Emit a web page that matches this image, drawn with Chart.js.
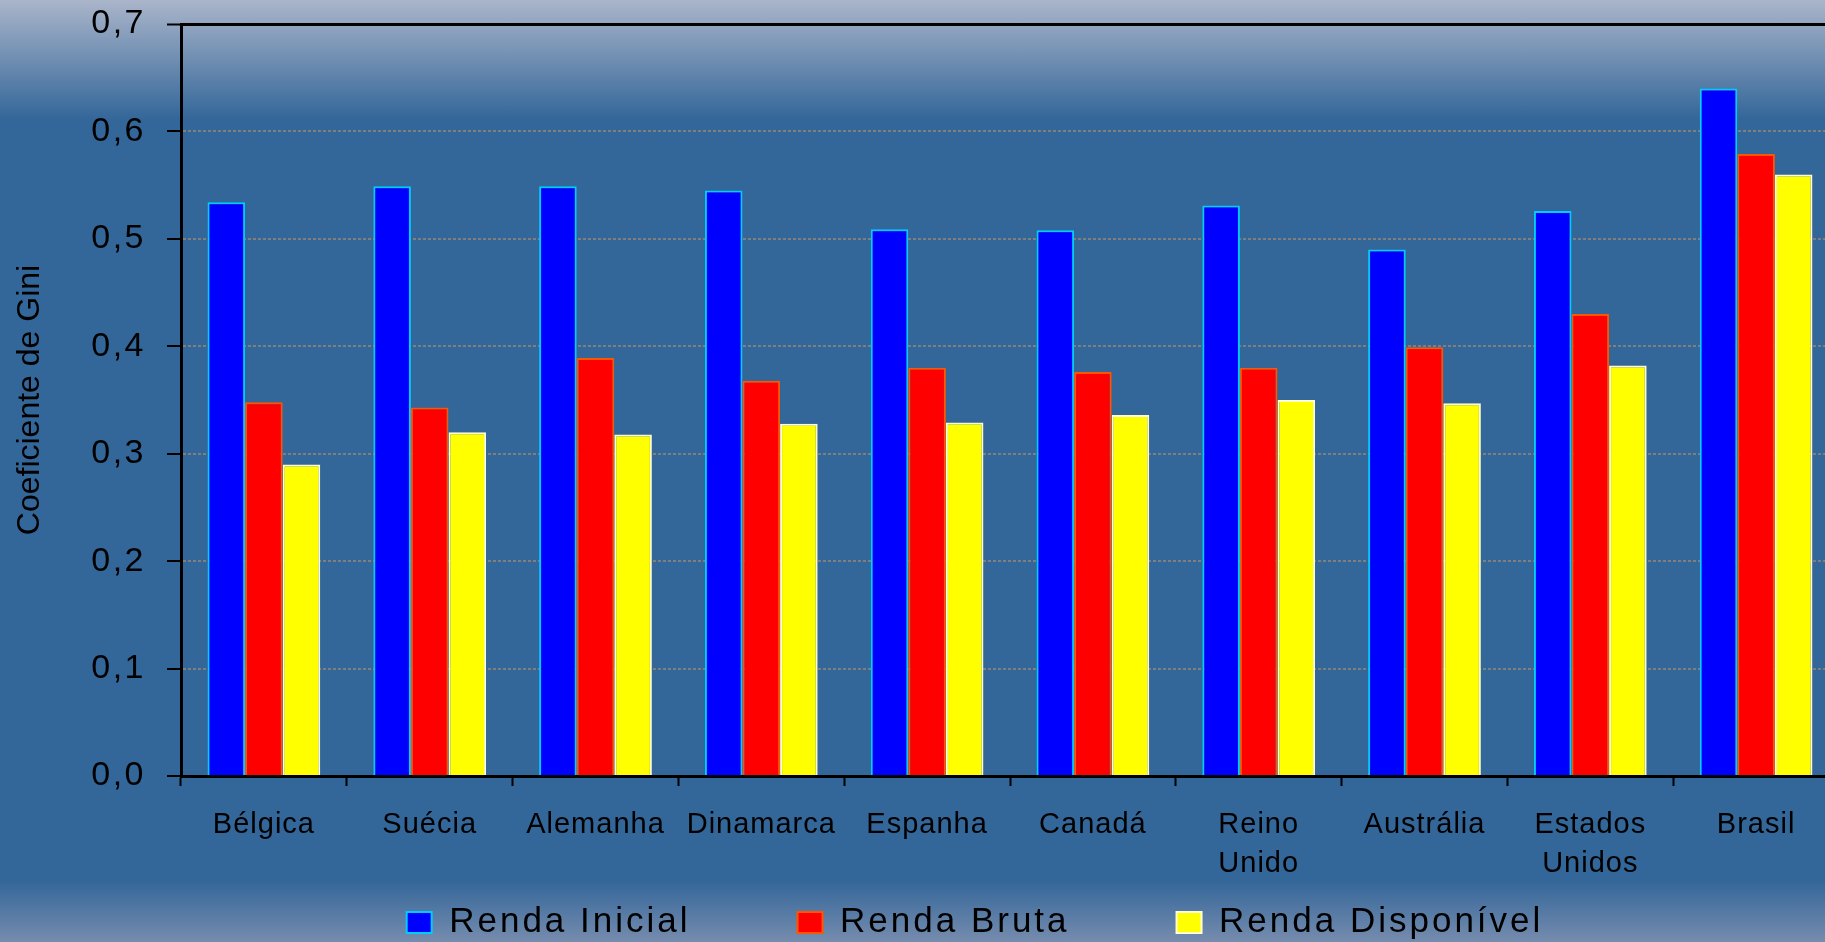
<!DOCTYPE html>
<html lang="pt">
<head>
<meta charset="utf-8">
<title>Coeficiente de Gini</title>
<script src="https://cdn.jsdelivr.net/npm/chart.js@4/dist/chart.umd.min.js"></script>
<style>
    html, body {
        margin: 0;
        padding: 0;
        width: 1825px;
        height: 942px;
        overflow: hidden;
        background: linear-gradient(to bottom, #aab5ca 0px, #336699 120px, #336699 880px, #768cae 942px);
    }
    #wrap {
        position: absolute;
        left: 0;
        top: 0;
        width: 1845px;
        height: 950px;
    }
</style>
</head>
<body>
<div id="wrap"><canvas id="grafico" width="1845" height="950"></canvas></div>
<script>
// Dados
const paises = ['Bélgica', 'Suécia', 'Alemanha', 'Dinamarca', 'Espanha', 'Canadá',
    ['Reino', 'Unido'], 'Austrália', ['Estados', 'Unidos'], 'Brasil'];
const rendaInicial    = [0.534, 0.549, 0.549, 0.545, 0.509, 0.508, 0.531, 0.490, 0.526, 0.640];
const rendaBruta      = [0.348, 0.343, 0.389, 0.368, 0.380, 0.376, 0.380, 0.399, 0.430, 0.579];
const rendaDisponivel = [0.290, 0.320, 0.318, 0.328, 0.329, 0.336, 0.350, 0.347, 0.382, 0.560];
const nomesSeries = ['Renda Inicial', 'Renda Bruta', 'Renda Disponível'];
const yMin = 0;
const yMax = 0.7;
const yPasso = 0.1;

const FONTE = "'Liberation Sans', Arial, sans-serif";

// Escalas com espaçamento entre letras (como no slide original),
// sem recorte dos rótulos na caixa do eixo
class EixoCategorias extends Chart.CategoryScale {
    _computeLabelArea() { return undefined; }
    drawLabels(area) {
        this.ctx.save();
        this.ctx.letterSpacing = '1px';
        super.drawLabels(area);
        this.ctx.restore();
    }
}
EixoCategorias.id = 'eixoCategorias';
EixoCategorias.defaults = Chart.CategoryScale.defaults;

class EixoValores extends Chart.LinearScale {
    _computeLabelArea() { return undefined; }
    drawLabels(area) {
        this.ctx.save();
        this.ctx.letterSpacing = '2.5px';
        super.drawLabels(area);
        this.ctx.restore();
    }
    drawTitle() {
        this.ctx.save();
        this.ctx.letterSpacing = '0px';
        super.drawTitle();
        this.ctx.restore();
    }
}
EixoValores.id = 'eixoValores';
EixoValores.defaults = Chart.LinearScale.defaults;

Chart.register(EixoCategorias, EixoValores);

const espacoLegenda = {
    id: 'espacoLegenda',
    beforeLayout(chart) { chart.ctx.letterSpacing = '3px'; },
    afterLayout(chart) { chart.ctx.letterSpacing = '0px'; },
    beforeDraw(chart) { chart.ctx.letterSpacing = '3px'; },
    afterDraw(chart) { chart.ctx.letterSpacing = '0px'; }
};

const ehTopo = (c) => c.tick && c.tick.value >= yMax - 1e-9;
const ehBase = (c) => c.tick && c.tick.value <= yMin + 1e-9;

const grafico = new Chart(document.getElementById('grafico'), {
    type: 'bar',
    data: {
        labels: paises,
        datasets: [
            { label: nomesSeries[0], data: rendaInicial, backgroundColor: '#0000ff', borderColor: '#00ccff', borderWidth: 2 },
            { label: nomesSeries[1], data: rendaBruta, backgroundColor: '#ff0000', borderColor: '#ff5500', borderWidth: 2 },
            { label: nomesSeries[2], data: rendaDisponivel, backgroundColor: '#ffff00', borderColor: '#ffffd0', borderWidth: 2 }
        ]
    },
    options: {
        responsive: false,
        animation: false,
        devicePixelRatio: 1,
        datasets: {
            bar: { categoryPercentage: 0.68, barPercentage: 1 }
        },
        layout: {
            padding: { left: 111, right: 6, top: 24, bottom: 0 }
        },
        plugins: {
            tooltip: { enabled: false },
            legend: {
                position: 'bottom',
                labels: {
                    color: '#000',
                    font: { family: FONTE, size: 35 },
                    boxWidth: 25,
                    boxHeight: 21,
                    padding: 107
                }
            }
        },
        scales: {
            x: {
                type: 'eixoCategorias',
                offset: true,
                grid: {
                    offset: true,
                    drawOnChartArea: false,
                    tickColor: '#000',
                    tickWidth: 2,
                    tickLength: 10
                },
                border: { color: '#000', width: 3 },
                ticks: {
                    color: '#000',
                    font: { family: FONTE, size: 29, lineHeight: 1.34 },
                    padding: 20,
                    autoSkip: false,
                    maxRotation: 0,
                    minRotation: 0
                },
                afterFit(scale) { scale.height = 22; }
            },
            y: {
                type: 'eixoValores',
                min: yMin,
                max: yMax,
                grid: {
                    color: (c) => (ehTopo(c) || ehBase(c)) ? '#000' : '#7f7f7f',
                    lineWidth: (c) => ehTopo(c) ? 3 : 2,
                    tickColor: '#000',
                    tickWidth: 2,
                    tickLength: 14
                },
                border: {
                    color: '#000',
                    width: 3,
                    dash: (c) => (c.tick && !ehTopo(c) && !ehBase(c)) ? [3, 2] : []
                },
                ticks: {
                    stepSize: yPasso,
                    color: '#000',
                    padding: 21,
                    font: { family: FONTE, size: 34 },
                    callback: (v) => v.toFixed(1).replace('.', ',')
                },
                title: {
                    display: true,
                    text: 'Coeficiente de Gini',
                    color: '#000',
                    font: { family: FONTE, size: 32 },
                    padding: { top: -100, bottom: 0 }
                },
                afterFit(scale) {
                    scale.width = 70;
                    scale.paddingTop = 0;
                    scale.paddingBottom = 0;
                }
            }
        }
    },
    plugins: [espacoLegenda]
});
</script>
</body>
</html>
